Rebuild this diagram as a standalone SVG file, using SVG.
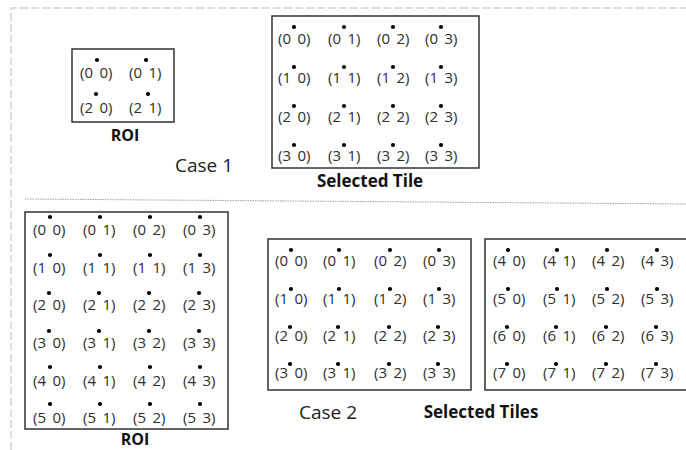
<svg xmlns="http://www.w3.org/2000/svg" width="686" height="450" viewBox="0 0 686 450">
<style>
.box{fill:#fff;stroke:#333;stroke-width:1.5}
.c{font-family:"Open Sans","Liberation Sans",sans-serif;font-size:15px;fill:#2e2e2e;word-spacing:2.5px}
.d{fill:#000}
.lb{font-family:"Open Sans","Liberation Sans",sans-serif;font-weight:bold;fill:#111;text-anchor:middle}
.case{font-family:"Open Sans","Liberation Sans",sans-serif;font-size:19px;fill:#222}
.frame{fill:none;stroke:#bdbdbd;stroke-width:1;stroke-dasharray:8,3}
.sep{fill:none;stroke:#a0a0a0;stroke-width:1;stroke-dasharray:1.5,1}
</style>
<g id="connectors">
<path class="frame" d="M11,450 V8 H686"/>
<path class="sep" d="M25,199 L686,204"/>
</g>
<g id="roi1">
<rect class="box" x="72" y="49" width="102" height="73"/>
<text class="c" x="80" y="78">(0 0)</text><circle class="d" cx="97" cy="60" r="2.1"/>
<text class="c" x="129" y="78">(0 1)</text><circle class="d" cx="146" cy="60" r="2.1"/>
<text class="c" x="80" y="113">(2 0)</text><circle class="d" cx="96" cy="94" r="2.1"/>
<text class="c" x="129" y="113">(2 1)</text><circle class="d" cx="148" cy="94" r="2.1"/>
<text class="lb" x="125" y="141" font-size="16">ROI</text>
</g>
<g id="case1-label"><text class="case" x="175" y="172">Case 1</text></g>
<g id="tile1">
<rect class="box" x="272" y="16" width="207" height="152"/>
<text class="c" x="278" y="44">(0 0)</text><circle class="d" cx="294" cy="27" r="2.1"/>
<text class="c" x="328" y="44">(0 1)</text><circle class="d" cx="344" cy="27" r="2.1"/>
<text class="c" x="377" y="44">(0 2)</text><circle class="d" cx="393" cy="27" r="2.1"/>
<text class="c" x="425" y="44">(0 3)</text><circle class="d" cx="441" cy="27" r="2.1"/>
<text class="c" x="278" y="83">(1 0)</text><circle class="d" cx="294" cy="67" r="2.1"/>
<text class="c" x="328" y="83">(1 1)</text><circle class="d" cx="344" cy="67" r="2.1"/>
<text class="c" x="377" y="83">(1 2)</text><circle class="d" cx="393" cy="67" r="2.1"/>
<text class="c" x="425" y="83">(1 3)</text><circle class="d" cx="441" cy="67" r="2.1"/>
<text class="c" x="278" y="122">(2 0)</text><circle class="d" cx="294" cy="106" r="2.1"/>
<text class="c" x="328" y="122">(2 1)</text><circle class="d" cx="344" cy="106" r="2.1"/>
<text class="c" x="377" y="122">(2 2)</text><circle class="d" cx="393" cy="106" r="2.1"/>
<text class="c" x="425" y="122">(2 3)</text><circle class="d" cx="441" cy="106" r="2.1"/>
<text class="c" x="278" y="161">(3 0)</text><circle class="d" cx="294" cy="145" r="2.1"/>
<text class="c" x="328" y="161">(3 1)</text><circle class="d" cx="344" cy="145" r="2.1"/>
<text class="c" x="377" y="161">(3 2)</text><circle class="d" cx="393" cy="145" r="2.1"/>
<text class="c" x="425" y="161">(3 3)</text><circle class="d" cx="441" cy="145" r="2.1"/>
<text class="lb" x="370" y="187" font-size="17">Selected Tile</text>
</g>
<g id="roi2">
<rect class="box" x="25" y="212" width="203" height="217"/>
<text class="c" x="33" y="235">(0 0)</text><circle class="d" cx="50" cy="217" r="2.1"/>
<text class="c" x="83" y="235">(0 1)</text><circle class="d" cx="100" cy="217" r="2.1"/>
<text class="c" x="133" y="235">(0 2)</text><circle class="d" cx="150" cy="217" r="2.1"/>
<text class="c" x="183" y="235">(0 3)</text><circle class="d" cx="200" cy="217" r="2.1"/>
<text class="c" x="33" y="273">(1 0)</text><circle class="d" cx="50" cy="255" r="2.1"/>
<text class="c" x="83" y="273">(1 1)</text><circle class="d" cx="100" cy="255" r="2.1"/>
<text class="c" x="133" y="273">(1 1)</text><circle class="d" cx="150" cy="255" r="2.1"/>
<text class="c" x="183" y="273">(1 3)</text><circle class="d" cx="200" cy="255" r="2.1"/>
<text class="c" x="33" y="310">(2 0)</text><circle class="d" cx="49" cy="293" r="2.1"/>
<text class="c" x="83" y="310">(2 1)</text><circle class="d" cx="99" cy="293" r="2.1"/>
<text class="c" x="133" y="310">(2 2)</text><circle class="d" cx="149" cy="293" r="2.1"/>
<text class="c" x="183" y="310">(2 3)</text><circle class="d" cx="199" cy="293" r="2.1"/>
<text class="c" x="33" y="348">(3 0)</text><circle class="d" cx="49" cy="331" r="2.1"/>
<text class="c" x="83" y="348">(3 1)</text><circle class="d" cx="99" cy="331" r="2.1"/>
<text class="c" x="133" y="348">(3 2)</text><circle class="d" cx="149" cy="331" r="2.1"/>
<text class="c" x="183" y="348">(3 3)</text><circle class="d" cx="199" cy="331" r="2.1"/>
<text class="c" x="33" y="386">(4 0)</text><circle class="d" cx="50" cy="367" r="2.1"/>
<text class="c" x="83" y="386">(4 1)</text><circle class="d" cx="100" cy="367" r="2.1"/>
<text class="c" x="133" y="386">(4 2)</text><circle class="d" cx="150" cy="367" r="2.1"/>
<text class="c" x="183" y="386">(4 3)</text><circle class="d" cx="200" cy="367" r="2.1"/>
<text class="c" x="33" y="423">(5 0)</text><circle class="d" cx="50" cy="404" r="2.1"/>
<text class="c" x="83" y="423">(5 1)</text><circle class="d" cx="100" cy="404" r="2.1"/>
<text class="c" x="133" y="423">(5 2)</text><circle class="d" cx="150" cy="404" r="2.1"/>
<text class="c" x="183" y="423">(5 3)</text><circle class="d" cx="200" cy="404" r="2.1"/>
<text class="lb" x="135" y="445" font-size="16">ROI</text>
</g>
<g id="case2-label"><text class="case" x="299" y="419">Case 2</text></g>
<g id="tiles2a">
<rect class="box" x="268" y="239" width="203" height="151"/>
<text class="c" x="275" y="266">(0 0)</text><circle class="d" cx="291" cy="250" r="2.1"/>
<text class="c" x="323" y="266">(0 1)</text><circle class="d" cx="339" cy="250" r="2.1"/>
<text class="c" x="374" y="266">(0 2)</text><circle class="d" cx="390" cy="250" r="2.1"/>
<text class="c" x="423" y="266">(0 3)</text><circle class="d" cx="439" cy="250" r="2.1"/>
<text class="c" x="275" y="304">(1 0)</text><circle class="d" cx="291" cy="289" r="2.1"/>
<text class="c" x="323" y="304">(1 1)</text><circle class="d" cx="339" cy="289" r="2.1"/>
<text class="c" x="374" y="304">(1 2)</text><circle class="d" cx="390" cy="289" r="2.1"/>
<text class="c" x="423" y="304">(1 3)</text><circle class="d" cx="439" cy="289" r="2.1"/>
<text class="c" x="275" y="341">(2 0)</text><circle class="d" cx="290" cy="327" r="2.1"/>
<text class="c" x="323" y="341">(2 1)</text><circle class="d" cx="338" cy="327" r="2.1"/>
<text class="c" x="374" y="341">(2 2)</text><circle class="d" cx="389" cy="327" r="2.1"/>
<text class="c" x="423" y="341">(2 3)</text><circle class="d" cx="438" cy="327" r="2.1"/>
<text class="c" x="275" y="378">(3 0)</text><circle class="d" cx="290" cy="364" r="2.1"/>
<text class="c" x="323" y="378">(3 1)</text><circle class="d" cx="338" cy="364" r="2.1"/>
<text class="c" x="374" y="378">(3 2)</text><circle class="d" cx="389" cy="364" r="2.1"/>
<text class="c" x="423" y="378">(3 3)</text><circle class="d" cx="438" cy="364" r="2.1"/>
</g>
<g id="tiles2b">
<rect class="box" x="485" y="239" width="206" height="151"/>
<text class="c" x="493" y="266">(4 0)</text><circle class="d" cx="508" cy="250" r="2.1"/>
<text class="c" x="543" y="266">(4 1)</text><circle class="d" cx="557" cy="250" r="2.1"/>
<text class="c" x="592" y="266">(4 2)</text><circle class="d" cx="607" cy="250" r="2.1"/>
<text class="c" x="641" y="266">(4 3)</text><circle class="d" cx="657" cy="250" r="2.1"/>
<text class="c" x="493" y="304">(5 0)</text><circle class="d" cx="508" cy="289" r="2.1"/>
<text class="c" x="543" y="304">(5 1)</text><circle class="d" cx="557" cy="289" r="2.1"/>
<text class="c" x="592" y="304">(5 2)</text><circle class="d" cx="607" cy="289" r="2.1"/>
<text class="c" x="641" y="304">(5 3)</text><circle class="d" cx="657" cy="289" r="2.1"/>
<text class="c" x="493" y="341">(6 0)</text><circle class="d" cx="507" cy="327" r="2.1"/>
<text class="c" x="543" y="341">(6 1)</text><circle class="d" cx="556" cy="327" r="2.1"/>
<text class="c" x="592" y="341">(6 2)</text><circle class="d" cx="606" cy="327" r="2.1"/>
<text class="c" x="641" y="341">(6 3)</text><circle class="d" cx="656" cy="327" r="2.1"/>
<text class="c" x="493" y="378">(7 0)</text><circle class="d" cx="507" cy="364" r="2.1"/>
<text class="c" x="543" y="378">(7 1)</text><circle class="d" cx="556" cy="364" r="2.1"/>
<text class="c" x="592" y="378">(7 2)</text><circle class="d" cx="606" cy="364" r="2.1"/>
<text class="c" x="641" y="378">(7 3)</text><circle class="d" cx="656" cy="364" r="2.1"/>
</g>
<g id="tiles2-label"><text class="lb" x="481" y="418" font-size="17">Selected Tiles</text></g>
</svg>
